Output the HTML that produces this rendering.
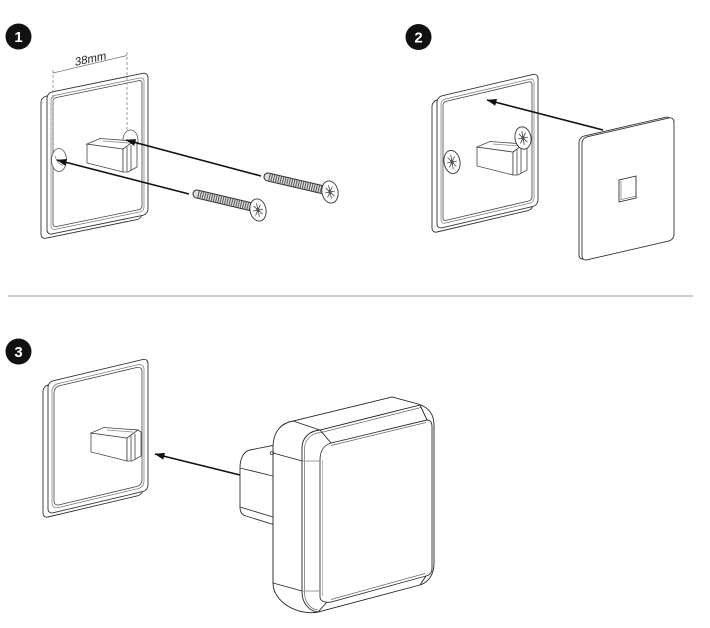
<!DOCTYPE html>
<html><head><meta charset="utf-8"><style>
html,body{margin:0;padding:0;background:#fff;}
svg{display:block;}
text{font-family:"Liberation Sans",sans-serif;}
</style></head><body>
<svg width="710" height="628" viewBox="0 0 710 628" xmlns="http://www.w3.org/2000/svg">
<defs>
<marker id="ah" viewBox="0 0 10 7" refX="9.5" refY="3.5" markerWidth="10" markerHeight="7" markerUnits="userSpaceOnUse" orient="auto">
<path d="M0,0 L10,3.5 L0,7 Z" fill="#111"/>
</marker>
</defs>
<rect width="710" height="628" fill="#fff"/>

<!-- badges -->
<circle cx="18.5" cy="36.5" r="13" fill="#111"/>
<text x="18.5" y="42" font-size="15" font-weight="bold" fill="#fff" text-anchor="middle">1</text>
<circle cx="418.5" cy="37" r="13" fill="#111"/>
<text x="418.5" y="42.5" font-size="15" font-weight="bold" fill="#fff" text-anchor="middle">2</text>
<circle cx="18.5" cy="351.5" r="13" fill="#111"/>
<text x="18.5" y="357" font-size="15" font-weight="bold" fill="#fff" text-anchor="middle">3</text>

<!-- separator -->
<line x1="8" y1="296" x2="693" y2="296" stroke="#999" stroke-width="1"/>

<!-- ============ STEP 1 ============ -->
<g transform="matrix(1,-0.205,0,1,47,93)" fill="#fff" stroke="#333">
 <rect x="-6" y="3" width="101" height="142" rx="5" stroke-width="0.9" vector-effect="non-scaling-stroke"/>
 <rect x="0" y="0" width="101" height="142" rx="5" stroke-width="0.9" vector-effect="non-scaling-stroke"/>
 <rect x="4" y="4" width="93" height="134" rx="4" fill="none" stroke="#777" stroke-width="0.7" vector-effect="non-scaling-stroke"/>
 <rect x="6" y="6.5" width="89" height="129" rx="3" fill="none" stroke="#444" stroke-width="0.8" vector-effect="non-scaling-stroke"/>
</g>
<!-- dashed dimension -->
<line x1="53" y1="70" x2="53" y2="150" stroke="#888" stroke-width="0.8" stroke-dasharray="3 2"/>
<line x1="127" y1="52" x2="127" y2="130" stroke="#888" stroke-width="0.8" stroke-dasharray="3 2"/>
<line x1="53" y1="73" x2="127" y2="55.5" stroke="#777" stroke-width="0.8"/>
<text transform="translate(75,66) rotate(-12) skewX(-12)" font-size="11.5" fill="#222">38mm</text>
<!-- holes -->
<ellipse cx="59" cy="160" rx="7.5" ry="11.5" fill="#fff" stroke="#555" stroke-width="0.8"/>
<path d="M55,156 C57,162 60,165 63,165" fill="none" stroke="#777" stroke-width="0.7"/>
<ellipse cx="130.5" cy="140" rx="7.5" ry="10" fill="#fff" stroke="#555" stroke-width="0.8"/>
<!-- connector 1 -->
<g stroke="#444" stroke-width="0.8" fill="#fff">
 <polygon points="87,144 123,149 123,172 87,163"/>
 <polygon points="87,144 100,138.5 134,141 123,149"/>
 <polygon points="123,149 134,141 137,143 137,167 128,172 123,172"/>
 <line x1="127" y1="147" x2="127" y2="172"/>
 <line x1="131" y1="145" x2="131" y2="170"/>
 <line x1="103" y1="141" x2="129" y2="143" stroke="#888"/>
</g>
<!-- arrows step 1 -->
<line x1="261" y1="176" x2="126" y2="140" stroke="#111" stroke-width="1.6" marker-end="url(#ah)"/>
<line x1="189" y1="194" x2="57" y2="160" stroke="#111" stroke-width="1.6" marker-end="url(#ah)"/>
<!-- loose screws -->
<g>
 <line x1="268" y1="177" x2="324" y2="190" stroke="#333" stroke-width="9" stroke-linecap="round"/>
 <line x1="268" y1="177" x2="324" y2="190" stroke="#ddd" stroke-width="7" stroke-linecap="round"/>
 <line x1="269" y1="177.2" x2="324" y2="190" stroke="#555" stroke-width="7" stroke-dasharray="1 1.3"/>
 <g transform="translate(330,192) rotate(-12) scale(1,1.4)">
  <circle r="8" fill="#fff" stroke="#333" stroke-width="0.9" vector-effect="non-scaling-stroke"/>
  <path d="M-5,0H5M0,-5V5M-3.5,-3.5L3.5,3.5M-3.5,3.5L3.5,-3.5" stroke="#444" stroke-width="0.8" vector-effect="non-scaling-stroke"/>
  <circle r="1.6" fill="#555"/>
 </g>
</g>
<g>
 <line x1="197" y1="194" x2="252" y2="207" stroke="#333" stroke-width="9" stroke-linecap="round"/>
 <line x1="197" y1="194" x2="252" y2="207" stroke="#ddd" stroke-width="7" stroke-linecap="round"/>
 <line x1="198" y1="194.2" x2="252" y2="207" stroke="#555" stroke-width="7" stroke-dasharray="1 1.3"/>
 <g transform="translate(258,210) rotate(-12) scale(1,1.4)">
  <circle r="8" fill="#fff" stroke="#333" stroke-width="0.9" vector-effect="non-scaling-stroke"/>
  <path d="M-5,0H5M0,-5V5M-3.5,-3.5L3.5,3.5M-3.5,3.5L3.5,-3.5" stroke="#444" stroke-width="0.8" vector-effect="non-scaling-stroke"/>
  <circle r="1.6" fill="#555"/>
 </g>
</g>

<!-- ============ STEP 2 ============ -->
<g transform="matrix(1,-0.235,0,1,437,97)" fill="#fff" stroke="#333">
 <rect x="-5" y="3" width="101" height="132" rx="5" stroke-width="0.9" vector-effect="non-scaling-stroke"/>
 <rect x="0" y="0" width="101" height="132" rx="5" stroke-width="0.9" vector-effect="non-scaling-stroke"/>
 <rect x="4" y="4" width="93" height="124" rx="4" fill="none" stroke="#777" stroke-width="0.7" vector-effect="non-scaling-stroke"/>
 <rect x="6" y="6.5" width="89" height="119" rx="3" fill="none" stroke="#444" stroke-width="0.8" vector-effect="non-scaling-stroke"/>
</g>
<!-- screw heads in plate 2 -->
<g transform="translate(452,162) rotate(-10) scale(1,1.45)">
 <circle r="8" fill="#fff" stroke="#333" stroke-width="0.9" vector-effect="non-scaling-stroke"/>
 <path d="M-5,0H5M0,-5V5M-3.5,-3.5L3.5,3.5M-3.5,3.5L3.5,-3.5" stroke="#444" stroke-width="0.8" vector-effect="non-scaling-stroke"/>
 <circle r="1.6" fill="#555"/>
</g>
<g transform="translate(390,3)" stroke="#444" stroke-width="0.8" fill="#fff">
 <polygon points="87,144 123,149 123,172 87,163"/>
 <polygon points="87,144 100,138.5 134,141 123,149"/>
 <polygon points="123,149 134,141 137,143 137,167 128,172 123,172"/>
 <line x1="127" y1="147" x2="127" y2="172"/>
 <line x1="131" y1="145" x2="131" y2="170"/>
 <line x1="103" y1="141" x2="129" y2="143" stroke="#888"/>
</g>
<g transform="translate(523,138) rotate(-10) scale(1,1.4)">
 <circle r="8" fill="#fff" stroke="#333" stroke-width="0.9" vector-effect="non-scaling-stroke"/>
 <path d="M-5,0H5M0,-5V5M-3.5,-3.5L3.5,3.5M-3.5,3.5L3.5,-3.5" stroke="#444" stroke-width="0.8" vector-effect="non-scaling-stroke"/>
 <circle r="1.6" fill="#555"/>
</g>
<!-- arrow step 2 -->
<line x1="603" y1="130" x2="487" y2="100" stroke="#111" stroke-width="1.6" marker-end="url(#ah)"/>
<!-- cover plate -->
<g transform="matrix(1,-0.23,0,1,582,138)" fill="#fff" stroke="#333">
 <rect x="-3" y="-1.5" width="92" height="123" rx="5" stroke-width="0.9" vector-effect="non-scaling-stroke"/>
 <rect x="0" y="0" width="92" height="123" rx="5" stroke-width="0.9" vector-effect="non-scaling-stroke"/>
 <rect x="37" y="50.5" width="17" height="22" fill="#fff" stroke-width="0.9" vector-effect="non-scaling-stroke"/>
 <path d="M39,52 V70.5 H54" fill="none" stroke="#777" stroke-width="0.7" vector-effect="non-scaling-stroke"/>
</g>

<!-- ============ STEP 3 ============ -->
<g transform="matrix(1,-0.237,0,1,48,382)" fill="#fff" stroke="#333">
 <rect x="-5" y="3" width="100" height="132" rx="5" stroke-width="0.9" vector-effect="non-scaling-stroke"/>
 <rect x="0" y="0" width="100" height="132" rx="5" stroke-width="0.9" vector-effect="non-scaling-stroke"/>
 <rect x="4" y="4" width="92" height="124" rx="6" fill="none" stroke="#777" stroke-width="0.7" vector-effect="non-scaling-stroke"/>
 <rect x="6" y="6.5" width="88" height="119" rx="5" fill="none" stroke="#444" stroke-width="0.8" vector-effect="non-scaling-stroke"/>
</g>
<g transform="translate(4,289)" stroke="#444" stroke-width="0.8" fill="#fff">
 <polygon points="87,144 123,149 123,172 87,163"/>
 <polygon points="87,144 100,138.5 134,141 123,149"/>
 <polygon points="123,149 134,141 137,143 137,167 128,172 123,172"/>
 <line x1="127" y1="147" x2="127" y2="172"/>
 <line x1="131" y1="145" x2="131" y2="170"/>
 <line x1="103" y1="141" x2="129" y2="143" stroke="#888"/>
</g>
<line x1="240" y1="475" x2="155" y2="454" stroke="#111" stroke-width="1.6" marker-end="url(#ah)"/>

<!-- plug -->
<g stroke="#333" stroke-width="0.9" fill="#fff">
 <path d="M275,445 L250,450 C244,451 240,458 240,468 L240,507 C240,512 242,515 246,516 L275,525 Z"/>
 <line x1="240" y1="468" x2="273" y2="476"/>
 <line x1="240" y1="507" x2="273" y2="517"/>
</g>
<!-- device -->
<g fill="none" stroke="#222" stroke-width="0.9">
 <path d="M273,447 C273,432 281,423 293,421 L392,397 L418,404 C428,407 434,414 434,425 L434,563 C434,574 429,582 420,585 L318,612 C298,616 273,602 273,583 Z" fill="#fff"/>
 <path d="M302,592 L302,448 C302,438 309,431 320,430 L420,405"/>
 <path d="M304.5,592 L304.5,449 C304.5,440 311,433 321,432.5 L421,407.5" stroke="#666" stroke-width="0.7"/>
 <path d="M302,592 C302,603 309,611 318,612"/>
 <path d="M304.5,592 C304.5,602 310,609 318,610" stroke="#666" stroke-width="0.7"/>
 <path d="M320,597 L320,460 C320,451 324,445 331,443 L427,420 C431,420 432,423 432,427 L432,568 C432,572 430,575 426,576 L331,602 C325,603 320,601 320,597 Z" stroke="#333"/>
 <path d="M331,445.5 L426,422.5" stroke="#666" stroke-width="0.7"/>
 <path d="M331,599.5 L425,573.5" stroke="#666" stroke-width="0.7"/>
 <path d="M322.5,460 L322.5,596" stroke="#999" stroke-width="0.7"/>
 <path d="M293,421 L320,430 M320,430 L331,443 M318,612 L327,602 M420,585 L426,576 M420,405 L427,420"/>
 <path d="M273,453 L302,461 M273,583 L302,591"/>
 <path d="M302,461 L320,461 M302,591 L320,591" stroke="#999"/>
 <ellipse cx="272" cy="453" rx="1.8" ry="1.4" stroke="#333" stroke-width="0.8"/>
</g>
</svg>
</body></html>
